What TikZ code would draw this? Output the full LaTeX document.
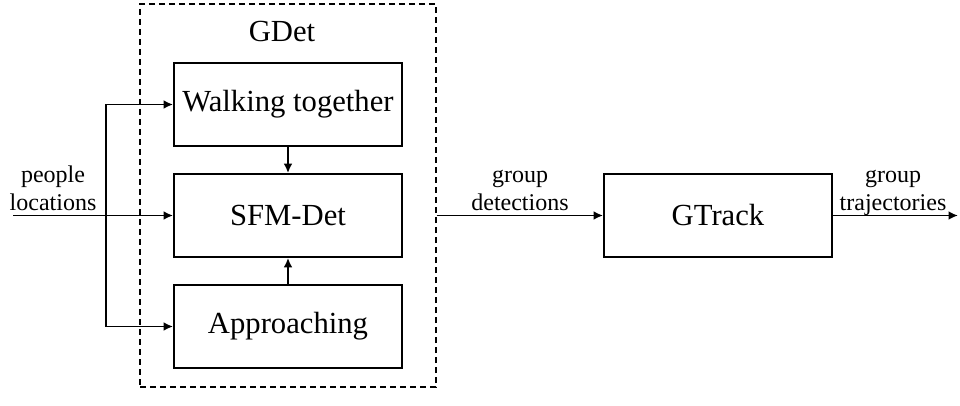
\documentclass[tikz,border=0pt]{standalone}
\usepackage{fontspec}
\setmainfont{Liberation Serif}
\usetikzlibrary{arrows.meta}
\begin{document}
\begin{tikzpicture}[x=0.75pt,y=-0.75pt,
  line width=1.4pt,
  blockbox/.style={draw, minimum width=171pt, minimum height=62.25pt,
    inner sep=0pt, font=\fontsize{23}{27}\selectfont},
  groupbox/.style={draw, line width=1.1pt, dash pattern=on 4.5pt off 3pt,
    minimum width=222pt, minimum height=287.25pt, inner sep=0pt},
  arr/.style={-{Latex[length=7pt,width=6.5pt]}},
  lbl/.style={align=center, inner sep=0pt, text depth=0pt, anchor=south,
    font=\fontsize{18}{21}\selectfont}]
\useasboundingbox (0,0) rectangle (960,406);

% GDet module with its three detectors
\node[groupbox] (gdet) at (288,195.5) {};
\node[anchor=base, inner sep=0pt, font=\fontsize{23}{27}\selectfont] (gdetlbl) at (282,42) {GDet};
\node[blockbox] (walk) at (288,104.5) {Walking together};
\node[blockbox] (sfm) at (288,215.5) {SFM-Det};
\node[blockbox] (appr) at (288,326.5) {Approaching};

% tracker
\node[blockbox] (gtrack) at (718,215.5) {GTrack};

% input branching
\coordinate (in) at (13,215.5);
\coordinate (br) at (106,215.5);
\coordinate (out) at (958,215.5);

\draw[arr] (in) -- (sfm.west);
\draw (br |- walk) -- (br |- appr);
\draw[arr] (br |- walk) -- (walk.west);
\draw[arr] (br |- appr) -- (appr.west);

\draw[arr] (walk.south) -- (sfm.north);
\draw[arr] (appr.north) -- (sfm.south);

\draw[arr] (sfm -| gdet.east) -- (gtrack.west);
\draw[arr] (gtrack.east) -- (out);

% edge labels
\node[lbl] (inlbl) at (53,211) {people\\locations};
\node[lbl] (detlbl) at (520,211) {group\\detections};
\node[lbl] (trajlbl) at (893,211) {group\\trajectories};
\end{tikzpicture}
\end{document}
